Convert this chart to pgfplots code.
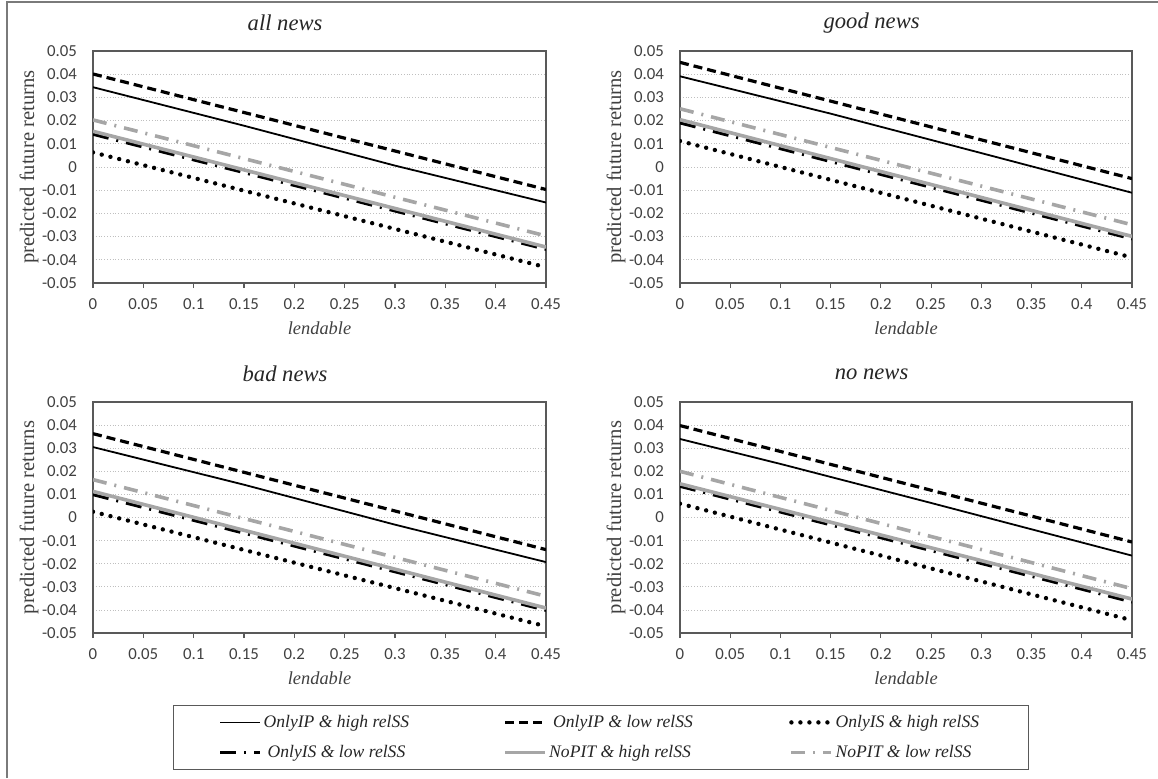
\documentclass[border=0pt]{standalone}
\usepackage{fontspec}
\setmainfont{Liberation Serif}
\newfontfamily\carlito{Carlito}
\usepackage{pgfplots}
\pgfplotsset{compat=1.18}
\definecolor{lgray}{HTML}{A6A6A6}
\definecolor{frame}{HTML}{595959}
\definecolor{txt}{HTML}{404040}
\pgfplotsset{
  panel/.style={
    scale only axis,
    width=226.5pt,
    xmin=0, xmax=0.45, ymin=-0.05, ymax=0.05,
    scaled y ticks=false, scaled x ticks=false,
    xtick={0,0.05,0.1,0.15,0.2,0.25,0.3,0.35,0.4,0.45},
    xticklabels={0,0.05,0.1,0.15,0.2,0.25,0.3,0.35,0.4,0.45},
    ytick={-0.05,-0.04,-0.03,-0.02,-0.01,0,0.01,0.02,0.03,0.04,0.05},
    yticklabels={-0.05,-0.04,-0.03,-0.02,-0.01,0,0.01,0.02,0.03,0.04,0.05},
    ymajorgrids,
    grid style={densely dotted, color=black!25, line width=0.4pt},
    axis line style={color=frame, line width=0.6pt},
    tick align=outside, major tick length=2.5pt,
    xtick pos=bottom,
    xtick style={color=frame, line width=0.6pt},
    ytick style={draw=none},
    ticklabel style={font=\carlito\fontsize{8.4}{9}\selectfont, text=txt},
    xticklabel style={inner ysep=0pt, yshift=-5pt},
    yticklabel style={inner xsep=0pt, xshift=-5.3pt},
    xlabel={lendable},
    ylabel={predicted future returns},
    xlabel style={font=\fontsize{9.2}{10}\selectfont\itshape, text=txt, at={(axis description cs:0.5,0)}, anchor=center, yshift=-22.5pt},
    ylabel style={font=\fontsize{10.3}{11}\selectfont, text=txt, at={(axis description cs:0,0.5)}, anchor=center, rotate=0, yshift=32pt},
    every axis title shift=0pt,
    title style={font=\fontsize{11.3}{13}\selectfont\itshape, text=black!85, at={(axis description cs:0.424,1)}, anchor=center, yshift=14pt},
    legend image code/.code={\draw[#1] plot coordinates {(0pt,0pt) (10pt,0pt) (20pt,0pt)};},
  },
  ipH/.style={black, line width=0.9pt, mark=none},
  ipL/.style={black, line width=1.6pt, dash pattern=on 4.5pt off 2.5pt, mark=none},
  isH/.style={black, line width=2.2pt, line cap=round, dash pattern=on 0pt off 4.5pt, mark=none},
  isL/.style={black, line width=1.5pt, dash pattern=on 8pt off 4pt on 1pt off 4pt, mark=none},
  npH/.style={lgray, line width=1.8pt, mark=none},
  npL/.style={lgray, line width=1.8pt, dash pattern=on 7pt off 4pt on 1pt off 4pt, mark=none},
}
\begin{document}
\begin{tikzpicture}
\path[use as bounding box] (0pt,0pt) rectangle (579pt,-389pt);
\draw[frame!80, line width=0.7pt] (3.5pt,-389pt) -- (3.5pt,-1pt) -- (579pt,-1pt);

% all news
\begin{axis}[panel, at={(46.5pt,-141.5pt)}, anchor=south west, height=116pt, title={all news}]
\addplot[ipH] coordinates {(0,0.0344) (0.15,0.0178) (0.3,0.0006) (0.45,-0.0153)};
\addplot[ipL] coordinates {(0,0.0401) (0.45,-0.0097)};
\addplot[isH] coordinates {(0,0.0063) (0.45,-0.0432)};
\addplot[isL] coordinates {(0,0.0141) (0.45,-0.0355)};
\addplot[npH] coordinates {(0,0.0154) (0.45,-0.0345)};
\addplot[npL] coordinates {(0,0.0203) (0.45,-0.0297)};
\end{axis}

% good news
\begin{axis}[panel, at={(340pt,-141.5pt)}, anchor=south west, height=116pt, width=226pt, title={good news}]
\addplot[ipH] coordinates {(0,0.0391) (0.15,0.0230) (0.3,0.0060) (0.45,-0.0111)};
\addplot[ipL] coordinates {(0,0.0451) (0.45,-0.0050)};
\addplot[isH] coordinates {(0,0.0112) (0.45,-0.0390)};
\addplot[isL] coordinates {(0,0.0190) (0.45,-0.0310)};
\addplot[npH] coordinates {(0,0.0204) (0.45,-0.0299)};
\addplot[npL] coordinates {(0,0.0251) (0.45,-0.0249)};
\end{axis}

% bad news
\begin{axis}[panel, at={(46.5pt,-316.5pt)}, anchor=south west, height=115.5pt, title={bad news},
  legend columns=3, legend cell align=left,
  legend style={at={(axis description cs:1.1217,-0.4524)}, anchor=center,
    draw=frame, line width=0.6pt, inner xsep=22.5pt, inner ysep=3.5pt, row sep=5.5pt,
    font=\fontsize{8.8}{10}\selectfont\itshape, text=black!85,
    nodes={inner xsep=0pt, inner ysep=1pt},
    /tikz/every even column/.append style={column sep=46pt}}]
\addplot[ipH] coordinates {(0,0.0305) (0.15,0.0142) (0.3,-0.0031) (0.45,-0.0193)};
\addlegendentry{\makebox[75pt][l]{\hspace{1pt}OnlyIP \& high relSS}}
\addplot[ipL] coordinates {(0,0.0363) (0.45,-0.0139)};
\addlegendentry{\makebox[75pt][l]{\hspace{3pt}OnlyIP \& low relSS}}
\addplot[isH] coordinates {(0,0.0025) (0.45,-0.0471)};
\addlegendentry{\makebox[75pt][l]{\hspace{1pt}OnlyIS \& high relSS}}
\addplot[isL] coordinates {(0,0.0099) (0.45,-0.0402)};
\addlegendentry{\makebox[75pt][l]{\hspace{3pt}OnlyIS \& low relSS}}
\addplot[npH] coordinates {(0,0.0113) (0.45,-0.0392)};
\addlegendentry{\makebox[75pt][l]{\hspace{1pt}NoPIT \& high relSS}}
\addplot[npL] coordinates {(0,0.0164) (0.45,-0.0341)};
\addlegendentry{\makebox[75pt][l]{\hspace{1pt}NoPIT \& low relSS}}
\end{axis}

% no news
\begin{axis}[panel, at={(340pt,-316.5pt)}, anchor=south west, height=115.5pt, width=226pt, title={no news}]
\addplot[ipH] coordinates {(0,0.0340) (0.1,0.0232) (0.25,0.0063) (0.45,-0.0165)};
\addplot[ipL] coordinates {(0,0.0398) (0.45,-0.0106)};
\addplot[isH] coordinates {(0,0.0060) (0.45,-0.0445)};
\addplot[isL] coordinates {(0,0.0135) (0.45,-0.0366)};
\addplot[npH] coordinates {(0,0.0146) (0.45,-0.0353)};
\addplot[npL] coordinates {(0,0.0200) (0.45,-0.0308)};
\end{axis}
\end{tikzpicture}
\end{document}
